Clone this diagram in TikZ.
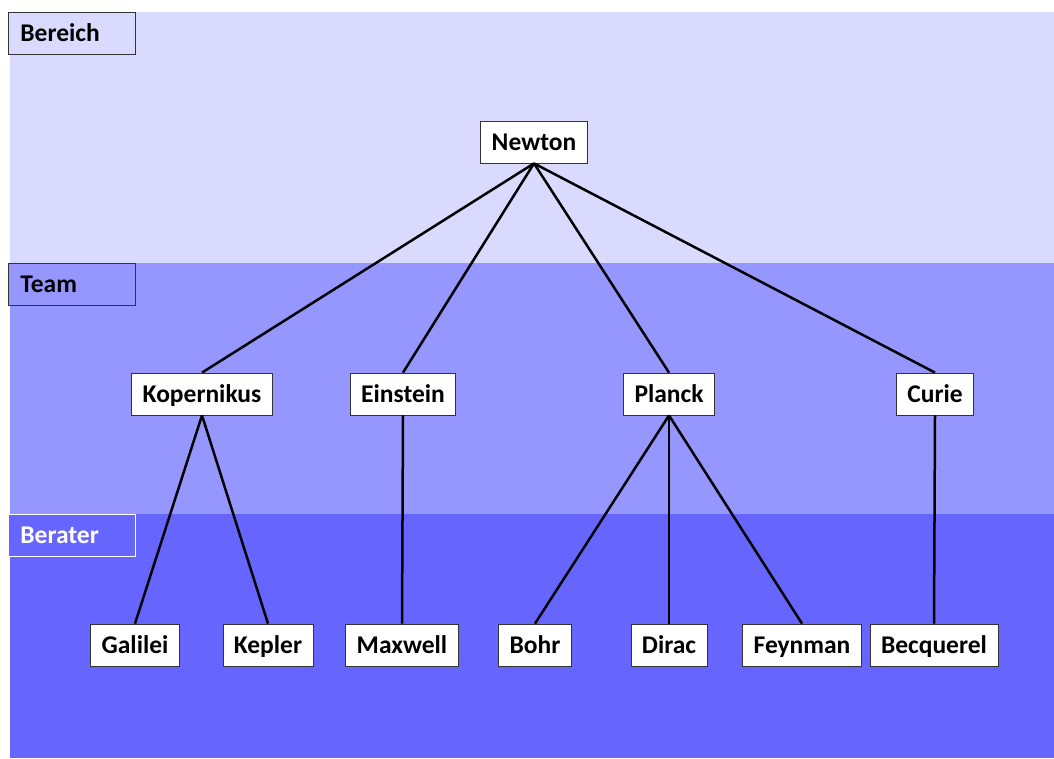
\documentclass[tikz,border=0pt]{standalone}
\usepackage{fontspec}
\setmainfont{Carlito}
\begin{document}
\begin{tikzpicture}[x=1pt,y=-1pt,
  txt/.style={font=\bfseries\fontsize{25.5}{28}\selectfont,text height=19pt,text depth=3pt},
  person/.style={txt,draw=black!80,line width=0.8pt,fill=white,minimum height=42pt,inner ysep=0pt,inner xsep=11pt},
  tier/.style={txt,draw=black!80,line width=0.8pt,minimum height=42pt,inner ysep=0pt,anchor=north west,text width=103pt,align=left,inner xsep=12pt},
  link/.style={line width=2.5pt}]
\definecolor{bandA}{HTML}{DADAFF}
\definecolor{bandB}{HTML}{9696FF}
\definecolor{bandC}{HTML}{6666FF}
\useasboundingbox (0,0) rectangle (1054,758);
\fill[white] (0,0) rectangle (1054,758);
% three horizontal bands
\fill[bandA] (10,12) rectangle (1054,263);
\fill[bandB] (10,263) rectangle (1054,514);
\fill[bandC] (10,514) rectangle (1054,758);
% band labels
\node[tier,fill=bandA] (lblA) at (8,12) {Bereich};
\node[tier,fill=bandB] (lblB) at (8,263) {Team};
\node[tier,fill=bandC,draw=white,text=white] (lblC) at (8,514) {Berater};
% people
\node[person] (newton) at (534,142) {Newton};
\node[person] (kop) at (202,394) {Kopernikus};
\node[person] (ein) at (403,394) {Einstein};
\node[person] (pla) at (669,394) {Planck};
\node[person] (cur) at (935,394) {Curie};
\node[person] (gal) at (135,645) {Galilei};
\node[person] (kep) at (268,645) {Kepler};
\node[person] (max) at (402,645) {Maxwell};
\node[person] (boh) at (535,645) {Bohr};
\node[person] (dir) at (669,645) {Dirac};
\node[person] (fey) at (802,645) {Feynman};
\node[person] (bec) at (934,645) {Becquerel};
% hierarchy lines
\foreach \c in {kop,ein,pla,cur} \draw[link] (newton.south) -- (\c.north);
\foreach \c in {gal,kep} \draw[link] (kop.south) -- (\c.north);
\draw[link] (ein.south) -- (max.north);
\foreach \c in {boh,dir,fey} \draw[link] (pla.south) -- (\c.north);
\draw[link] (cur.south) -- (bec.north);
\end{tikzpicture}
\end{document}
